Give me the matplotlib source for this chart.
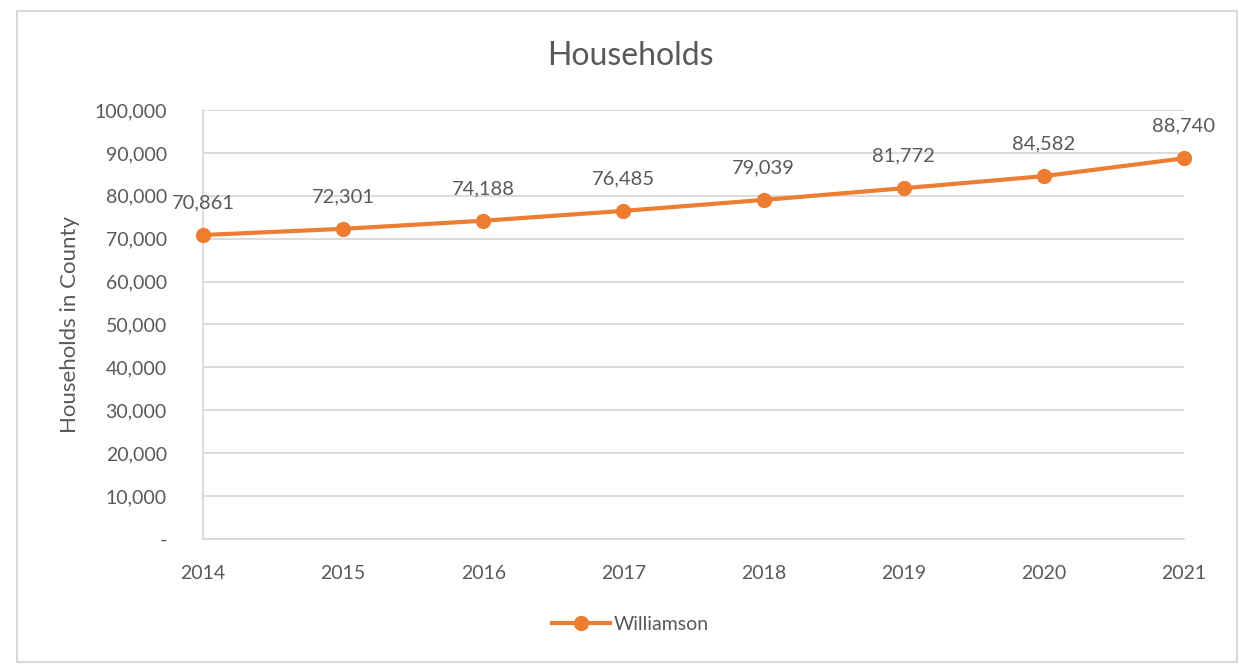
import matplotlib.pyplot as plt
from matplotlib.patches import Rectangle
from matplotlib.ticker import FuncFormatter, MultipleLocator

years = [2014, 2015, 2016, 2017, 2018, 2019, 2020, 2021]
households = [70861, 72301, 74188, 76485, 79039, 81772, 84582, 88740]
series_name = "Williamson"

TEXT = "#595959"
ORANGE = "#ED7D31"
GRID = "#D9D9D9"

plt.rcParams["font.family"] = ["Lato", "DejaVu Sans"]

fig = plt.figure(figsize=(12.39, 6.64), dpi=100)
ax = fig.add_axes([0.1638, 0.1883, 0.7918, 0.646])

ax.plot(years, households, color=ORANGE, linewidth=3, marker="o", markersize=10,
        label=series_name, zorder=3, clip_on=False)
for x, y in zip(years, households):
    ax.annotate(f"{y:,}", (x, y), xytext=(0, 17), textcoords="offset points",
                ha="center", va="bottom", fontsize=14.5, color=TEXT)

ax.set_xlim(years[0], years[-1])
ax.set_ylim(0, 100000)
ax.set_xticks(years)
ax.yaxis.set_major_locator(MultipleLocator(10000))
ax.yaxis.set_major_formatter(FuncFormatter(lambda v, _: "-" if v == 0 else f"{int(v):,}"))
ax.grid(axis="y", color=GRID, linewidth=1.3)
ax.set_axisbelow(True)
ax.tick_params(length=0, labelsize=14, colors=TEXT, pad=19)
ax.tick_params(axis="y", pad=26)
for s in ("top", "right"):
    ax.spines[s].set_visible(False)
for s in ("left", "bottom"):
    ax.spines[s].set_color(GRID)
    ax.spines[s].set_linewidth(1.3)

ax.set_ylabel("Households in County", fontsize=16, color=TEXT, labelpad=10)
fig.text(0.509, 0.915, "Households", ha="center", va="center", fontsize=23, color=TEXT)

fig.legend(loc="center", bbox_to_anchor=(0.509, 0.06), frameon=False, fontsize=14,
           labelcolor=TEXT, handlelength=3, handletextpad=0.2)

fig.add_artist(Rectangle((17 / 1239, 2 / 664), 1220 / 1239, 651 / 664,
                         transform=fig.transFigure, fill=False,
                         edgecolor="#D9D9D9", linewidth=1.5))

fig.savefig("out.png", dpi=100)
